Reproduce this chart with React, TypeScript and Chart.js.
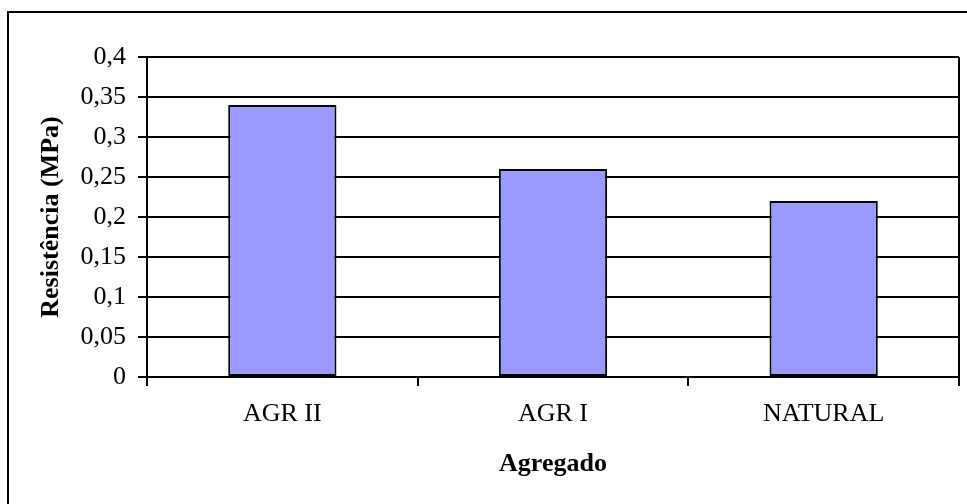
import React, { useEffect, useRef } from "react";
import { Chart, registerables } from "chart.js";

Chart.register(...registerables);

const categories = ["AGR II", "AGR I", "NATURAL"];
const resistencia = [0.34, 0.26, 0.22];
const yMin = 0;
const yMax = 0.4;
const yStep = 0.05;
const xTitle = "Agregado";
const yTitle = "Resistência (MPa)";

const FONT = '"Liberation Serif", "Times New Roman", serif';

const framePlugin = {
  id: "frame",
  afterDraw(chart: any) {
    const { ctx, chartArea } = chart;
    ctx.save();
    ctx.strokeStyle = "#000";
    ctx.lineWidth = 2;
    ctx.strokeRect(8, 12, 3000, 3000);
    ctx.beginPath();
    ctx.moveTo(chartArea.right, chartArea.top);
    ctx.lineTo(chartArea.right, chartArea.bottom);
    ctx.stroke();
    ctx.restore();
  },
};

export default function App() {
  const ref = useRef<HTMLCanvasElement | null>(null);
  useEffect(() => {
    if (!ref.current) return;
    const chart = new Chart(ref.current, {
      type: "bar",
      data: {
        labels: categories,
        datasets: [
          {
            data: resistencia,
            backgroundColor: "#9999FF",
            borderColor: "#000",
            borderWidth: 2,
            borderSkipped: false,
            barPercentage: 0.4,
            categoryPercentage: 1,
          },
        ],
      },
      options: {
        animation: false,
        responsive: false,
        devicePixelRatio: 1,
        layout: { padding: { top: 57, right: 8, left: 0, bottom: 0 } },
        plugins: { legend: { display: false }, tooltip: { enabled: false } },
        scales: {
          x: {
            afterFit: (s: any) => {
              s.height = 127;
            },
            grid: {
              display: true,
              drawOnChartArea: false,
              drawTicks: true,
              tickLength: 9,
              color: "#000",
              lineWidth: 2,
              offset: true,
            },
            border: { display: true, color: "#000", width: 2 },
            ticks: {
              color: "#000",
              font: { family: FONT, size: 26 },
              padding: 13,
            },
            title: {
              display: true,
              text: xTitle,
              color: "#000",
              font: { family: FONT, size: 26, weight: "bold" },
              padding: { bottom: 24, top: 0 },
            },
          },
          y: {
            min: yMin,
            max: yMax,
            afterFit: (s: any) => {
              s.width = 147;
            },
            grid: {
              display: true,
              drawOnChartArea: true,
              drawTicks: true,
              tickLength: 9,
              color: "#000",
              lineWidth: 2,
            },
            border: { display: true, color: "#000", width: 2 },
            ticks: {
              stepSize: yStep,
              color: "#000",
              font: { family: FONT, size: 26 },
              padding: 12,
              callback: (v: any) =>
                String(Math.round(Number(v) * 100) / 100).replace(".", ","),
            },
            title: {
              display: true,
              text: yTitle,
              color: "#000",
              font: { family: FONT, size: 26, weight: "bold" },
              padding: { top: 36, bottom: 0 },
            },
          },
        },
      },
      plugins: [framePlugin],
    } as any);
    return () => chart.destroy();
  }, []);
  return (
    <div style={{ position: "fixed", left: 0, top: 0, width: 967, height: 504, background: "#fff" }}>
      <canvas ref={ref} width={967} height={504} style={{ width: 967, height: 504, display: "block" }} />
    </div>
  );
}
